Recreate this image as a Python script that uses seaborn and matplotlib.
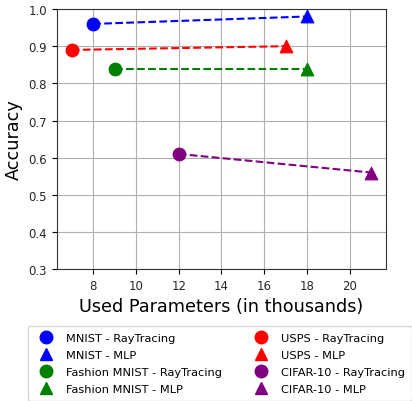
import matplotlib
matplotlib.use("Agg")
import matplotlib.pyplot as plt
import seaborn as sns
import pandas as pd
from matplotlib.lines import Line2D

datasets = ["MNIST", "Fashion MNIST", "USPS", "CIFAR-10"]
colors = ["blue", "green", "red", "purple"]
rt_params = [8, 9, 7, 12]
rt_acc = [0.96, 0.84, 0.89, 0.61]
mlp_params = [18, 18, 17, 21]
mlp_acc = [0.98, 0.84, 0.90, 0.56]

fig = plt.figure(figsize=(4.12, 4.02), dpi=100)
ax = fig.add_axes([0.138, 0.328, 0.799, 0.647])

handles = []
for name, c, rx, ry, mx, my in zip(datasets, colors, rt_params, rt_acc, mlp_params, mlp_acc):
    df = pd.DataFrame({"x": [rx, mx], "y": [ry, my]})
    sns.lineplot(data=df, x="x", y="y", ax=ax, color=c, linestyle="--", linewidth=1.5, zorder=2)
    sns.scatterplot(x=[rx], y=[ry], ax=ax, color=c, marker="o", s=85, edgecolor=c, zorder=3)
    sns.scatterplot(x=[mx], y=[my], ax=ax, color=c, marker="^", s=85, edgecolor=c, zorder=3)
    handles.append(Line2D([], [], color=c, marker="o", linestyle="None", markersize=9, label=f"{name} - RayTracing"))
    handles.append(Line2D([], [], color=c, marker="^", linestyle="None", markersize=9, label=f"{name} - MLP"))

ax.set_ylim(0.3, 1.0)
ax.set_xticks([8, 10, 12, 14, 16, 18, 20])
ax.grid(True, color="#b0b0b0", linewidth=0.8)
ax.set_axisbelow(True)
ax.tick_params(labelsize=8.5, labelcolor="#262626")
for s in ax.spines.values():
    s.set_color("#333333")
ax.set_xlabel("Used Parameters (in thousands)", fontsize=12.7)
ax.set_ylabel("Accuracy", fontsize=12.7)

fig.legend(handles=handles, loc="upper left", bbox_to_anchor=(0.068, 0.187), ncol=2,
           fontsize=8.2, frameon=True, columnspacing=2.5, handletextpad=0.7, labelspacing=0.62,
           borderpad=0.6, borderaxespad=0.0)

fig.savefig("out.png", dpi=100)
